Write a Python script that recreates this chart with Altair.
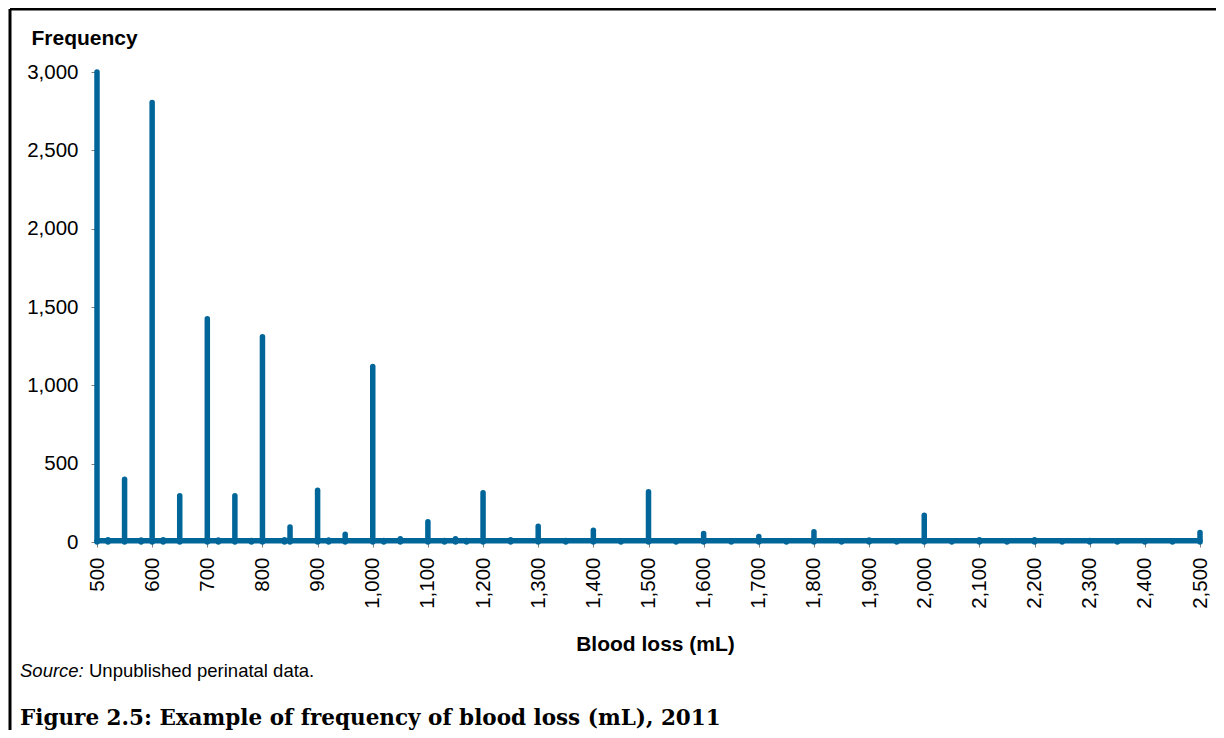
import altair as alt
import pandas as pd

# Frequency at every 50 mL
blood_loss_ml = [500, 550, 600, 650, 700, 750, 800, 850, 900, 950,
                 1000, 1050, 1100, 1150, 1200, 1250, 1300, 1350, 1400, 1450,
                 1500, 1550, 1600, 1650, 1700, 1750, 1800, 1850, 1900, 1950,
                 2000, 2050, 2100, 2150, 2200, 2250, 2300, 2350, 2400, 2450,
                 2500]
frequency = [3000, 400, 2805, 295, 1425, 295, 1310, 95, 330, 50,
             1120, 20, 130, 20, 315, 15, 100, 10, 75, 8,
             320, 6, 55, 6, 35, 5, 65, 4, 12, 3,
             170, 2, 15, 2, 15, 2, 10, 1, 4, 1,
             60]

# small bumps at other multiples of 10 mL
minor_ml = [520, 580, 620, 720, 780, 840, 920, 1020, 1130, 1170]
minor_freq = [14, 12, 14, 12, 10, 14, 12, 10, 10, 10]

# typical count for the remaining (non-rounded) mL values
background_freq = 8

x_ticks = [500, 600, 700, 800, 900, 1000, 1100, 1200, 1300, 1400, 1500,
           1600, 1700, 1800, 1900, 2000, 2100, 2200, 2300, 2400, 2500]
y_ticks = [0, 500, 1000, 1500, 2000, 2500, 3000]

all_ml = blood_loss_ml + minor_ml
all_freq = frequency + minor_freq
rows = pd.DataFrame({
    "x": all_ml + [blood_loss_ml[0]],
    "x2": all_ml + [blood_loss_ml[-1]],
    "y": [0] * len(all_ml) + [background_freq],
    "y2": all_freq + [background_freq],
})

COLOR = "#006699"
FONT = "Liberation Sans"
W, H = 1103, 470
PL, PT = 89, 64
TOTAL_W, TOTAL_H = 1208, 722

x_enc = alt.X(
    "x:Q",
    scale=alt.Scale(domain=[500, 2500], nice=False, zero=False),
    axis=alt.Axis(
        values=x_ticks, format=",d", labelAngle=270, labelAlign="right",
        labelBaseline="middle", labelFontSize=20.5, labelFont=FONT,
        labelColor="black", labelPadding=10, tickColor="#808080", tickSize=5,
        tickWidth=1, domain=False, grid=False, labelOverlap=False,
        title="Blood loss (mL)", titleFont=FONT, titleFontSize=21,
        titleFontWeight="bold", titleColor="black", titleX=558, titleY=108,
        titleAlign="center", titleBaseline="alphabetic",
    ),
)
y_enc = alt.Y(
    "y:Q",
    scale=alt.Scale(domain=[0, 3000], nice=False),
    axis=alt.Axis(
        values=y_ticks, format=",d", labelFontSize=20.5, labelFont=FONT,
        labelColor="black", labelPadding=13, tickColor="#808080", tickSize=6,
        tickWidth=1, domain=False, grid=False,
        title="Frequency", titleFont=FONT, titleFontSize=21,
        titleFontWeight="bold", titleColor="black", titleAngle=0,
        titleAlign="left", titleBaseline="alphabetic", titleX=-66, titleY=-28,
    ),
)

lines = alt.Chart(rows).mark_rule(
    color=COLOR, strokeWidth=5.5, strokeCap="round"
).encode(x=x_enc, x2="x2:Q", y=y_enc, y2="y2:Q")

one = pd.DataFrame({"t": ["Source:"]})
src1 = alt.Chart(one).mark_text(
    font=FONT, fontSize=18.5, fontStyle="italic", align="left",
    baseline="alphabetic", color="black"
).encode(text="t:N", x=alt.value(-77), y=alt.value(605))

two = pd.DataFrame({"t": ["Unpublished perinatal data."]})
src2 = alt.Chart(two).mark_text(
    font=FONT, fontSize=18.5, align="left", baseline="alphabetic", color="black"
).encode(text="t:N", x=alt.value(-8), y=alt.value(605))

three = pd.DataFrame({"t": ["Figure 2.5: Example of frequency of blood loss (mL), 2011"]})
caption = alt.Chart(three).mark_text(
    font="DejaVu Serif", fontSize=21.5, fontWeight="bold", align="left",
    baseline="alphabetic", color="black"
).encode(text="t:N", x=alt.value(-77), y=alt.value(653))

frame_df = pd.DataFrame({"k": [0]})
frame_left = alt.Chart(frame_df).mark_rule(color="black", strokeWidth=3).encode(
    x=alt.value(-87), y=alt.value(-63), y2=alt.value(H + 200)
)
frame_top = alt.Chart(frame_df).mark_rule(color="black", strokeWidth=3).encode(
    x=alt.value(-87), x2=alt.value(W + 40), y=alt.value(-63)
)

chart = alt.layer(lines, src1, src2, caption, frame_left, frame_top).properties(
    width=W, height=H,
    background="white",
    autosize=alt.AutoSizeParams(type="none"),
    padding={"left": PL, "top": PT, "right": TOTAL_W - PL - W, "bottom": TOTAL_H - PT - H},
).configure_view(stroke=None)

chart.save("out.html", embed_options={"renderer": "svg", "actions": False})
